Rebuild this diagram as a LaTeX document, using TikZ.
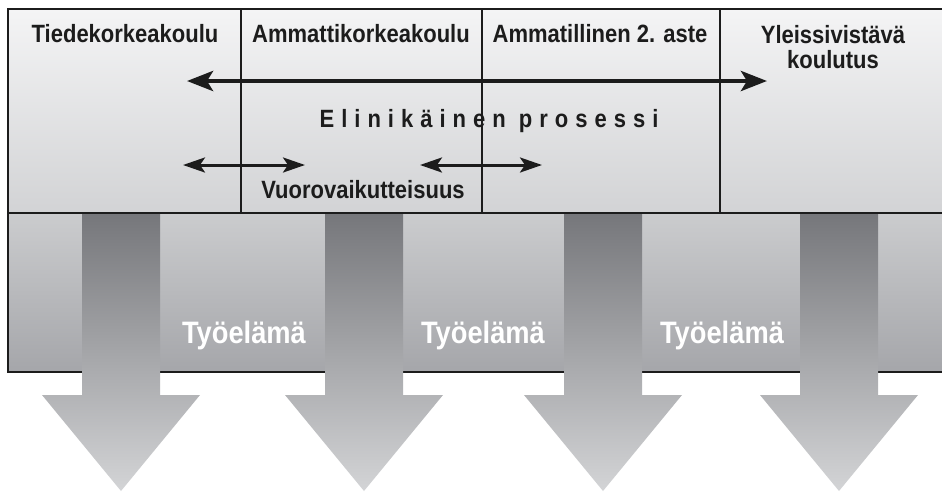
\documentclass[tikz,border=0pt]{standalone}
\usepackage{fontspec}
\setmainfont{Liberation Sans}
\newfontfamily\narrowfont[FakeStretch=0.88]{Liberation Sans}
\newfontfamily\spacedfont[FakeStretch=0.88,LetterSpace=28]{Liberation Sans}
\usetikzlibrary{arrows.meta}

\definecolor{uppertop}{HTML}{F4F4F5}
\definecolor{upperbot}{HTML}{D2D3D5}
\definecolor{lowertop}{HTML}{CBCCCE}
\definecolor{lowerbot}{HTML}{A5A6AA}
\definecolor{flowtop}{HTML}{76777B}
\definecolor{flowbot}{HTML}{D3D4D6}
\definecolor{ink}{HTML}{1C1C1C}

\tikzset{
    frame/.style={draw=ink, line width=2.5pt},
    school/.style={font=\narrowfont\bfseries\fontsize{25}{25}\selectfont, text=ink, inner sep=0pt, anchor=base},
    work/.style={font=\narrowfont\bfseries\fontsize{31}{31}\selectfont, text=white, inner sep=0pt, anchor=base},
    lifelong/.style={ink, line width=4.5pt, {Stealth[length=26pt,width=20pt,inset=6pt]}-{Stealth[length=26pt,width=20pt,inset=6pt]}},
    interplay/.style={ink, line width=3pt, {Stealth[length=22pt,width=15pt,inset=5pt]}-{Stealth[length=22pt,width=15pt,inset=5pt]}}
}

\begin{document}
\begin{tikzpicture}[x=1pt,y=-1pt]
        \useasboundingbox (0,0) rectangle (942,491);
        \clip (0,0) rectangle (942,491);

        % working life band
        \shade[top color=lowertop, bottom color=lowerbot] (8,213) rectangle (960,372);
        \draw[frame] (8,213) rectangle (960,372);

        % downward flows
        \foreach \c in {121,364,603,839} {
            \shade[top color=flowtop, bottom color=flowbot]
                (\c-39,214) -- (\c+39,214) -- (\c+39,395) -- (\c+79,395)
                -- (\c,491) -- (\c-79,395) -- (\c-39,395) -- cycle;
        }

        % school levels
        \shade[top color=uppertop, bottom color=upperbot] (8,9) rectangle (960,213);
        \draw[frame] (8,9) rectangle (960,213);
        \foreach \x in {241,482,720}
            \draw[frame] (\x,9) -- (\x,213);

        \node[school] (tiede) at (125,42) {Tiedekorkeakoulu};
        \node[school] (amk) at (361,42) {Ammattikorkeakoulu};
        \node[school] (amm) at (600,42) {Ammatillinen 2. aste};
        \node[school, anchor=north, align=center] (yleis) at (833,25) {Yleissivistävä\\koulutus};

        \node[school, font=\spacedfont\bfseries\fontsize{25}{25}\selectfont] (prosessi) at (489,127) {Elinikäinen prosessi};
        \node[school] (vuoro) at (363,198) {Vuorovaikutteisuus};

        \coordinate (lifeW) at (187,81);
        \coordinate (lifeE) at (767,81);
        \draw[lifelong] (lifeW) -- (lifeE);

        \coordinate (vuoroW1) at (183,165);
        \coordinate (vuoroE1) at (305,165);
        \coordinate (vuoroW2) at (420,165);
        \coordinate (vuoroE2) at (542,165);
        \draw[interplay] (vuoroW1) -- (vuoroE1);
        \draw[interplay] (vuoroW2) -- (vuoroE2);

        \node[work] (tyo1) at (244,343) {Työelämä};
        \node[work] (tyo2) at (483,343) {Työelämä};
        \node[work] (tyo3) at (722,343) {Työelämä};
    \end{tikzpicture}
\end{document}
